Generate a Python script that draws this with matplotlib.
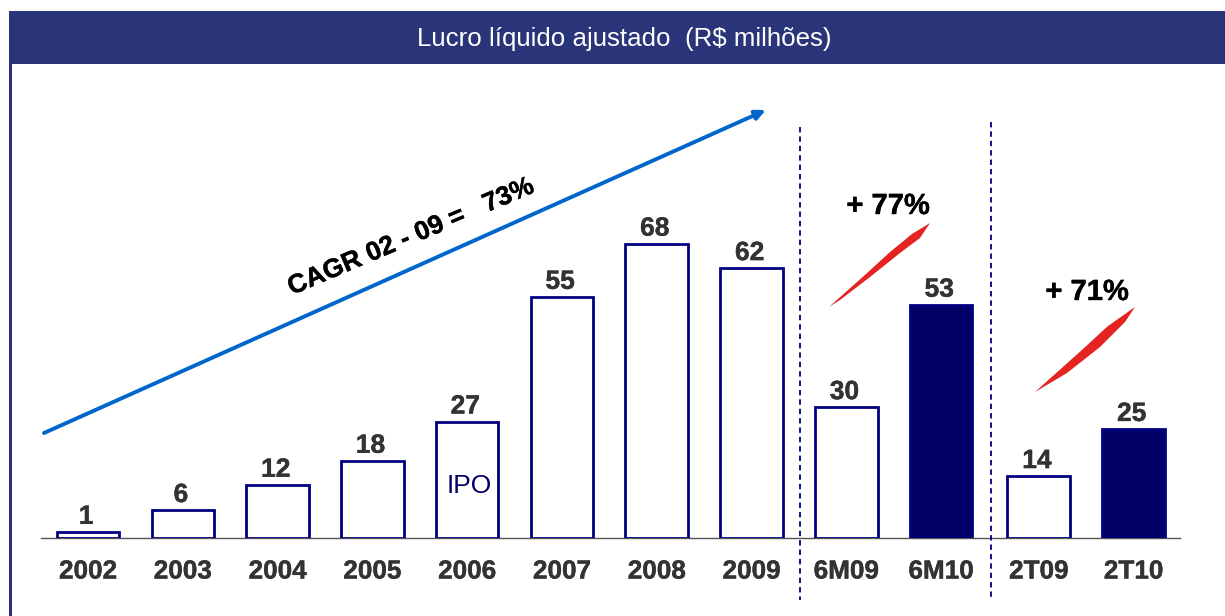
import matplotlib
matplotlib.use('Agg')
from matplotlib import pyplot as plt
from matplotlib.patches import Polygon, Rectangle
import matplotlib.patheffects as pe

plt.rcParams['font.family'] = ['Liberation Sans', 'DejaVu Sans']

categories = ['2002', '2003', '2004', '2005', '2006', '2007', '2008', '2009', '6M09', '6M10', '2T09', '2T10']
positions = [0, 1, 2, 3, 4, 5, 6, 7, 8, 9, 10.03, 11.03]
# bar heights, printed labels kept apart
heights = [1.4, 6.4, 12.2, 17.7, 26.7, 55.3, 67.5, 61.9, 30.0, 53.5, 14.2, 25.0]
labels = ['1', '6', '12', '18', '27', '55', '68', '62', '30', '53', '14', '25']
filled = ['6M10', '2T10']

W, H = 1225, 616
NAVY = '#000066'
EDGE = '#000080'
HEADER = '#2a3579'
RED = '#e52421'
GREY = '#333333'
thick = [pe.withStroke(linewidth=0.3, foreground=GREY)]
thick_k = [pe.withStroke(linewidth=0.3, foreground='black')]

fig = plt.figure(figsize=(W/100, H/100), dpi=100, facecolor='white')

# overlay in pixel coords for the slide furniture
bg = fig.add_axes([0, 0, 1, 1])
bg.set_xlim(0, W)
bg.set_ylim(H, 0)
bg.axis('off')
bg.add_patch(Rectangle((9, 11), W-9, 53, fc=HEADER, ec='none'))
bg.add_patch(Rectangle((9, 11), 3, H-11, fc=HEADER, ec='none'))
bg.text(624, 39, 'Lucro líquido ajustado  (R$ milhões)', color='white', fontsize=18.6,
        ha='center', va='center')

# bars
ax = fig.add_axes([41/W, (H-538)/H, (1180-41)/W, 436/H])
ax.patch.set_alpha(0)
for x, v, c, l in zip(positions, heights, categories, labels):
    ax.bar(x, v, width=0.66, fc=NAVY if c in filled else 'white', ec=EDGE, lw=2.0, zorder=3)
    ax.text(x - 0.02, v + 0.7, l, ha='center', va='bottom', fontsize=19, fontweight='bold', color=GREY,
            path_effects=thick)
ax.set_xlim(-0.496, 11.52)
ax.set_ylim(0, 100)
ax.set_xticks(positions)
ax.set_xticklabels(categories, fontsize=18.8, fontweight='bold', color=GREY, path_effects=thick)
ax.tick_params(axis='x', length=0, pad=15.5)
ax.set_yticks([])
for s in ['top', 'left', 'right']:
    ax.spines[s].set_visible(False)
ax.spines['bottom'].set_color('#555555')
ax.spines['bottom'].set_linewidth(1.0)
ax.text(4.02, 11.9, 'IPO', ha='center', va='center', fontsize=19, color=NAVY, zorder=4)

# annotations on top
top = fig.add_axes([0, 0, 1, 1])
top.set_xlim(0, W)
top.set_ylim(H, 0)
top.axis('off')
top.annotate('', xy=(766, 110), xytext=(44, 433),
             arrowprops=dict(arrowstyle='-|>,head_length=0.6,head_width=0.28', color='#0066cc', lw=2.8,
                             shrinkA=0, shrinkB=0))
top.text(411, 237, 'CAGR 02 - 09 =   73%', rotation=23, rotation_mode='anchor', ha='center', va='center',
         fontsize=19, fontweight='bold', color='black', path_effects=thick_k)
top.plot([800, 800], [127, 600], color=EDGE, lw=1.3, ls=(0, (3, 2.2)))
top.plot([991, 991], [122, 600], color=EDGE, lw=1.3, ls=(0, (3, 2.2)))
top.text(888, 206, '+ 77%', ha='center', va='center', fontsize=21, fontweight='bold', color='black',
         path_effects=thick_k)
top.text(1087, 292, '+ 71%', ha='center', va='center', fontsize=21, fontweight='bold', color='black',
         path_effects=thick_k)
top.add_patch(Polygon([(829, 307), (866, 274), (890, 252), (912, 234), (930, 223),
                       (920, 238), (900, 253), (870, 277), (840, 300)], fc=RED, ec='none'))
top.add_patch(Polygon([(1035, 392), (1083, 349), (1108, 326), (1135, 307),
                       (1125, 322), (1100, 347), (1067, 373)], fc=RED, ec='none'))

fig.savefig('out.png', dpi=100)
